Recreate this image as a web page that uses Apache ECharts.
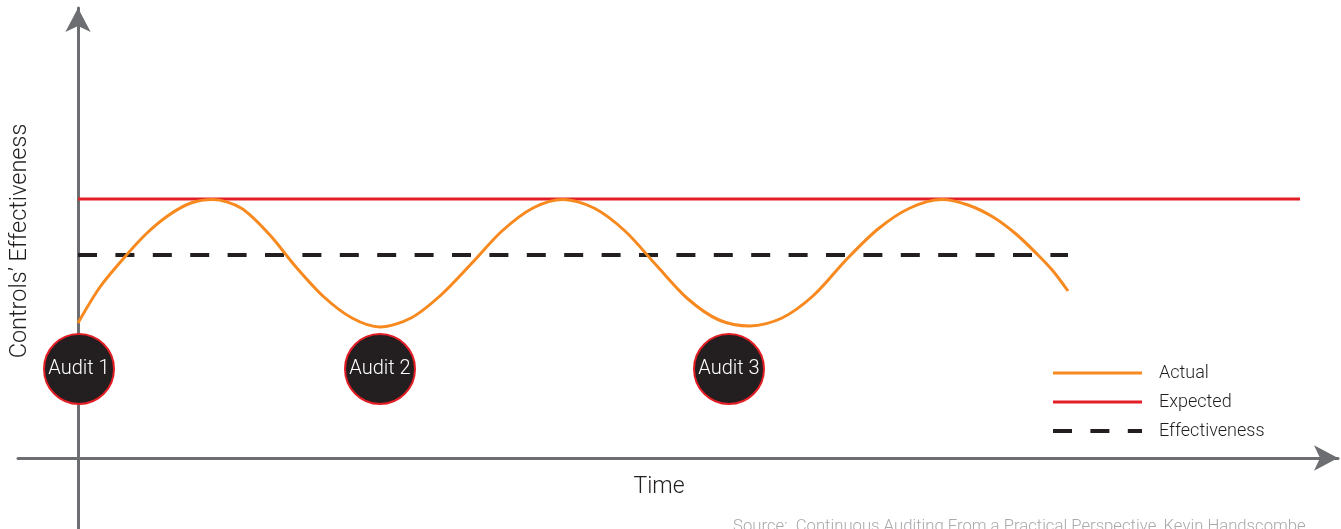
<!DOCTYPE html>
<html>
<head>
<meta charset="utf-8">
<script src="https://cdn.jsdelivr.net/npm/echarts@6/dist/echarts.min.js"></script>
<style>
html,body{margin:0;padding:0;background:#fff;}
#chart{width:1341px;height:529px;}
</style>
</head>
<body>
<div id="chart"></div>
<script>
// Time units (arbitrary, origin at y-axis) and effectiveness units (origin at x-axis)
var actualX = [0,22,45,68,91,113,135,163,191,218,246,274,302,333,363,394,424,455,485,516,547,579,610,641,672,704,736,768,800,832,864,890,915,938,959,975,990];
var actualY = [135,171,199,224,243,255,258.5,250,224,191,161,140,131,140,163,195,227,250,258.5,250,227,192,159,138,132,140,163,198,229,250,258.5,253,241,224,204,187,167];
var expectedX = [0,1222];
var expectedY = [259,259];
var effectivenessX = [0,990];
var effectivenessY = [203,203];
var auditX = [1,302,651];
var auditY = [89,89,89];
var auditLabels = ['Audit 1','Audit 2','Audit 3'];
var seriesNames = ['Actual','Expected','Effectiveness'];
var xAxisTitle = 'Time';
var yAxisTitle = 'Controls\u2019 Effectiveness';
var sourceText = 'Source:  Continuous Auditing From a Practical Perspective, Kevin Handscombe';

function zip(a,b){return a.map(function(v,i){return [v,b[i]];});}

var FONT = 'Roboto';
var chart = echarts.init(document.getElementById('chart'), null, {renderer:'canvas'});
var axisCommon = {
  type:'value',
  splitLine:{show:false},
  axisTick:{show:false},
  axisLabel:{show:false},
  axisLine:{show:true,onZero:true,symbol:['none','arrow'],symbolSize:[19,24],
    lineStyle:{color:'#6d6e71',width:3}}
};
chart.setOption({
  animation:false,
  backgroundColor:'#fff',
  grid:{left:18,right:3,top:8,bottom:0,containLabel:false},
  xAxis:Object.assign({},axisCommon,{min:-60,max:1260}),
  yAxis:Object.assign({},axisCommon,{min:-71,max:450}),
  legend:{
    orient:'vertical',left:1046,top:359,
    data:[
      {name:seriesNames[0],lineStyle:{width:3}},
      {name:seriesNames[1],lineStyle:{width:3}},
      {name:seriesNames[2],lineStyle:{width:4}}
    ],
    itemWidth:89,itemHeight:14,itemGap:11,
    itemStyle:{opacity:0},
    textStyle:{fontFamily:FONT,fontWeight:300,fontSize:18,color:'#231f20',padding:[0,0,0,12]}
  },
  series:[
    {name:seriesNames[1],type:'line',data:zip(expectedX,expectedY),symbol:'none',
      lineStyle:{color:'#e31e25',width:3},itemStyle:{color:'#e31e25'},z:3},
    {name:seriesNames[2],type:'line',data:zip(effectivenessX,effectivenessY),symbol:'none',
      lineStyle:{color:'#231f20',width:4,type:[19,18.4]},itemStyle:{color:'#231f20'},z:3},
    {name:seriesNames[0],type:'line',data:zip(actualX,actualY),symbol:'none',smooth:0.3,
      lineStyle:{color:'#f7891f',width:3},itemStyle:{color:'#f7891f'},z:4},
    {name:'Audits',type:'scatter',data:zip(auditX,auditY),symbol:'circle',symbolSize:70,
      itemStyle:{color:'#231f20',borderColor:'#e31e25',borderWidth:2,opacity:1},
      label:{show:true,position:'inside',formatter:function(p){return auditLabels[p.dataIndex];},
        fontFamily:FONT,fontWeight:300,fontSize:20,color:'#ffffff'},
      z:5}
  ],
  graphic:[
    {type:'text',x:659,y:487,style:{text:xAxisTitle,fontFamily:FONT,fontWeight:300,fontSize:23,fill:'#231f20',align:'center',verticalAlign:'middle'}},
    {type:'text',x:20,y:241,rotation:Math.PI/2,style:{text:yAxisTitle,fontFamily:FONT,fontWeight:300,fontSize:23.5,fill:'#231f20',align:'center',verticalAlign:'middle'}},
    {type:'text',x:733,y:518,style:{text:sourceText,fontFamily:FONT,fontWeight:300,fontSize:16.7,fill:'#a7a9ac',align:'left',verticalAlign:'top'}}
  ]
});
</script>
</body>
</html>
